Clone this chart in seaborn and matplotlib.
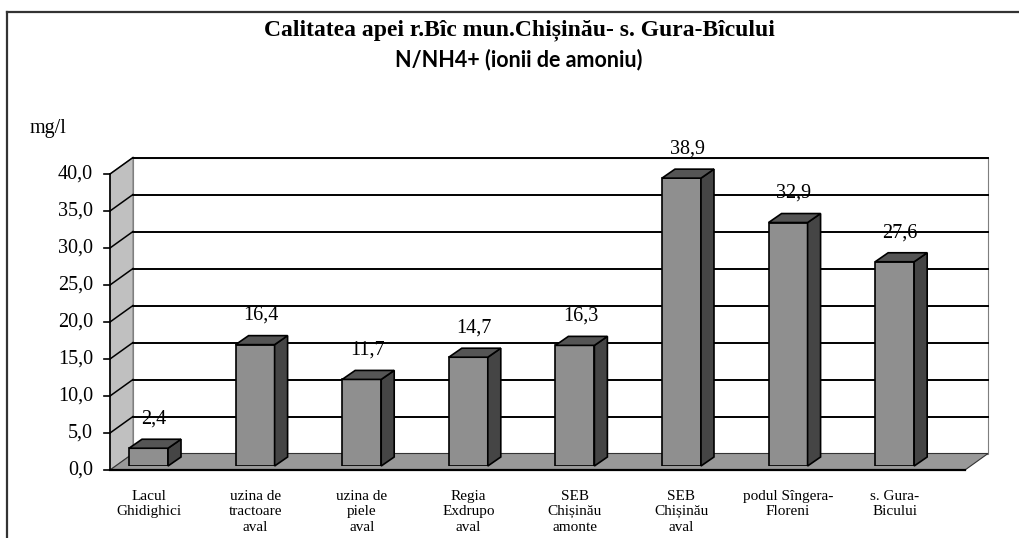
import matplotlib
matplotlib.use("agg")
import matplotlib.pyplot as plt
import seaborn as sns
import pandas as pd
from matplotlib.patches import Polygon
from matplotlib.lines import Line2D
from matplotlib.transforms import IdentityTransform

sites = ["Lacul\nGhidighici", "uzina de\ntractoare\naval", "uzina de\npiele\naval",
         "Regia\nExdrupo\naval", "SEB\nChișinău\namonte", "SEB\nChișinău\naval",
         "podul Sîngera-\nFloreni", "s. Gura-\nBicului"]
nh4 = [2.4, 16.4, 11.7, 14.7, 16.3, 38.9, 32.9, 27.6]
yticks = [0, 5, 10, 15, 20, 25, 30, 35, 40]

title1 = "Calitatea apei r.Bîc mun.Chișinău- s. Gura-Bîcului"
title2 = "N/NH4+ (ionii de amoniu)"
unit = "mg/l"

serif = "Liberation Serif"

W, H = 1019, 538
fig = plt.figure(figsize=(W / 100, H / 100), dpi=100)
fig.patch.set_facecolor("white")

ax = fig.add_axes([121 / W, 72 / H, 855 / W, 296 / H])
df = pd.DataFrame({"site": sites, "val": nh4})
sns.barplot(data=df, x="site", y="val", color="#8f8f8f", saturation=1, width=0.366,
            edgecolor="black", linewidth=1.2, ax=ax)
bars = list(ax.patches)
ax.set_xlim(-0.258, 7.763)
ax.set_ylim(0, 40)
ax.patch.set_visible(False)
for s in ax.spines.values():
    s.set_visible(False)
ax.set_xlabel("")
ax.set_ylabel("")
ax.set_yticks([])
ax.tick_params(axis="x", length=0, pad=17)
ax.set_xticks(range(len(sites)))
ax.set_xticklabels(sites, family=serif, fontsize=11, linespacing=1.25, va="top")

# pseudo 3d planes, offsets in pixels (front / back of the plot box)
front = (-11, -4)
back = (12, 12.5)
xl, xr = ax.get_xlim()


def pt(x, y, off=(0, 0)):
    dx, dy = ax.transData.transform((x, y))
    return (dx + off[0], dy + off[1])


def poly(pts, fc, ec, lw=0.8, z=0.5):
    ax.add_patch(Polygon(pts, closed=True, facecolor=fc, edgecolor=ec, linewidth=lw,
                         transform=IdentityTransform(), clip_on=False, zorder=z))


def line(p1, p2, c="black", lw=1.4, z=0.6):
    ax.add_line(Line2D([p1[0], p2[0]], [p1[1], p2[1]], color=c, linewidth=lw,
                       transform=IdentityTransform(), clip_on=False, zorder=z))


top = yticks[-1]
# back wall
poly([pt(xl, 0, back), pt(xr, 0, back), pt(xr, top, back), pt(xl, top, back)], "white", "#7f7f7f", z=0.1)
# left side wall
poly([pt(xl, 0, front), pt(xl, top, front), pt(xl, top, back), pt(xl, 0, back)], "#c0c0c0", "#7f7f7f", z=0.2)
for t in yticks[1:]:
    line(pt(xl, t, back), pt(xr, t, back), z=0.3)
    line(pt(xl, t, front), pt(xl, t, back), lw=1.1, z=0.3)
# floor
poly([pt(xl, 0, front), pt(xr, 0, front), pt(xr, 0, back), pt(xl, 0, back)], "#999999", "#333333", z=0.4)
line(pt(xl, 0, front), pt(xr, 0, front), lw=1.6, z=0.45)
# front axis + ticks
line(pt(xl, 0, front), pt(xl, top, front), lw=1.2, z=0.45)
for t in yticks:
    p = pt(xl, t, front)
    line((p[0] - 6, p[1]), p, lw=1.2, z=0.45)
    fig.text((p[0] - 17) / W, p[1] / H, f"{t:.1f}".replace(".", ","), ha="right", va="center",
             family=serif, fontsize=14.5)

# bars: side and top faces
d = (13, 9)
for b, v in zip(bars, nh4):
    b.set_zorder(2)
    x0, w, h = b.get_x(), b.get_width(), b.get_height()
    bl = pt(x0, 0)
    tr = pt(x0 + w, h)
    poly([(tr[0], bl[1]), (tr[0] + d[0], bl[1] + d[1]), (tr[0] + d[0], tr[1] + d[1]), tr],
         "#454545", "black", lw=1.2, z=2.1)
    poly([(bl[0], tr[1]), tr, (tr[0] + d[0], tr[1] + d[1]), (bl[0] + d[0], tr[1] + d[1])],
         "#555555", "black", lw=1.2, z=2.1)
    ax.annotate(f"{v:.1f}".replace(".", ","), (x0 + w / 2, h), xytext=(4, 21),
                textcoords="offset points", ha="center", va="center",
                family=serif, fontsize=14.5, annotation_clip=False, zorder=3)

fig.text(30 / W, 1 - 128 / H, unit, family=serif, fontsize=14.5, ha="left", va="center")
fig.text(519 / W, 1 - 30 / H, title1, family="Liberation Serif", fontweight="bold",
         fontsize=17, ha="center", va="center")
fig.text(519 / W, 1 - 60 / H, title2, family="Lato", fontweight="bold",
         fontsize=15.5, ha="center", va="center")

# outer chart frame (top and left)
fig.add_artist(Line2D([7 / W, 1], [1 - 12 / H, 1 - 12 / H], color="#333333", linewidth=1.6,
                      transform=fig.transFigure))
fig.add_artist(Line2D([7 / W, 7 / W], [0, 1 - 12 / H], color="#333333", linewidth=1.6,
                      transform=fig.transFigure))

fig.savefig("out.png", dpi=100)
